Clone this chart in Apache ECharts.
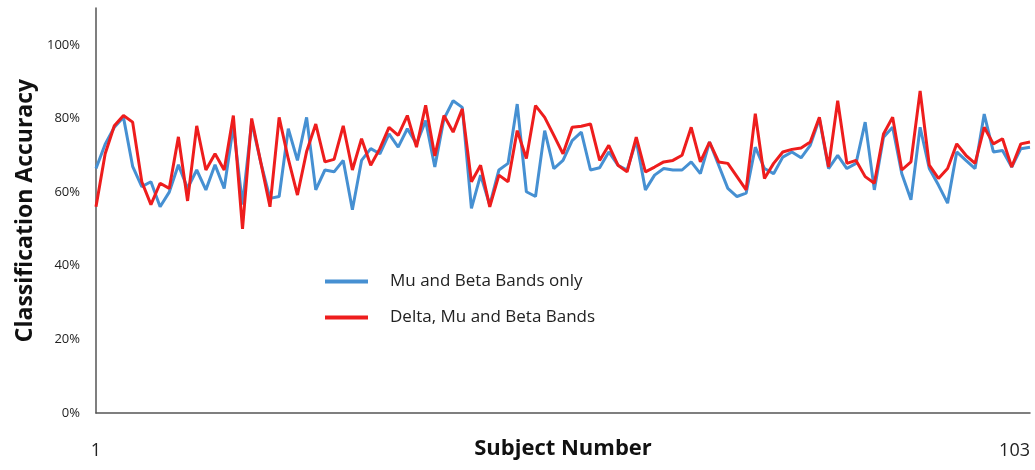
<!DOCTYPE html>
<html>
<head>
<meta charset="utf-8">
<script src="https://cdn.jsdelivr.net/npm/echarts@6/dist/echarts.min.js"></script>
<style>
  html, body { margin: 0; padding: 0; background: #fff; }
  #chart { width: 1035px; height: 470px; }
</style>
</head>
<body>
<div id="chart"></div>
<script>
// subject numbers 1..103
const subjects = Array.from({ length: 103 }, (_, i) => String(i + 1));

const muBeta = [
  66.4, 73, 77.6, 80.3, 67, 61.5, 62.8, 56, 60, 67.4,
  61, 66, 60.6, 67.4, 61, 78, 56.6, 79, 68, 58.3,
  58.8, 77.2, 68.6, 80.3, 60.6, 66, 65.5, 68.6, 55.2, 68.6,
  71.8, 70.4, 75.8, 72.2, 77.2, 73.1, 79.4, 66.8, 79.9, 84.8,
  83, 55.6, 64.6, 56.5, 66, 67.8, 83.9, 60.1, 58.8, 76.7,
  66.4, 68.6, 74, 76.3, 66, 66.6, 70.9, 67.3, 66, 74,
  60.6, 64.6, 66.4, 66, 66, 68.2, 65, 73.6, 67.3, 61,
  58.8, 59.7, 72.2, 66.4, 65, 69.5, 70.9, 69.3, 72.7, 79.9,
  66.4, 70, 66.4, 67.8, 79, 60.6, 74.9, 77.6, 65, 57.9,
  77.6, 66.4, 61.9, 57, 70.9, 68.6, 66.4, 81.2, 70.9, 71.3,
  66.8, 71.8, 72.2
];

const deltaMuBeta = [
  56, 70.4, 78, 80.8, 79, 62.8, 56.6, 62.4, 61, 75,
  57.6, 78, 66, 70.4, 66, 80.8, 50, 80, 68, 56,
  80.3, 69, 59.2, 71, 78.5, 68.2, 68.9, 78, 66, 74.5,
  67.3, 71.8, 77.6, 75.4, 80.8, 72.2, 83.6, 69.8, 80.8, 76.3,
  82.6, 62.8, 67.3, 56, 64.6, 62.8, 76.7, 69.1, 83.5, 80.3,
  75.4, 70.4, 77.6, 77.9, 78.5, 68.6, 72.7, 67.3, 65.5, 74.9,
  65.5, 66.8, 68.2, 68.6, 70, 77.6, 68.2, 73.6, 68.2, 67.8,
  64.2, 60.6, 81.3, 63.7, 67.8, 70.9, 71.6, 72, 73.6, 80.3,
  66.8, 84.8, 67.8, 68.6, 64.2, 62.4, 75.8, 80.3, 66, 68.2,
  87.5, 67.3, 63.7, 66.4, 73.1, 70, 67.8, 77.6, 73.1, 74.5,
  66.8, 73.1, 73.6
];

const yTicks = [0, 20, 40, 60, 80, 100];

const chart = echarts.init(document.getElementById('chart'));

const font = '"Open Sans", "Liberation Sans", sans-serif';

chart.setOption({
  animation: false,
  textStyle: { fontFamily: font },
  grid: {
    left: 96,
    right: 5,
    top: 8,
    bottom: 57,
    outerBoundsMode: 'none'
  },
  legend: {
    orient: 'vertical',
    left: 320,
    top: 268,
    itemGap: 19,
    itemWidth: 43,
    itemHeight: 4,
    icon: 'rect',
    textStyle: { fontSize: 17, color: '#222', fontFamily: font, padding: [0, 0, 0, 17] },
    data: ['Mu and Beta Bands only', 'Delta, Mu and Beta Bands']
  },
  xAxis: {
    type: 'category',
    data: subjects,
    boundaryGap: false,
    name: 'Subject Number',
    nameLocation: 'middle',
    nameGap: 25,
    nameMoveOverlap: false,
    nameTextStyle: { fontSize: 22, fontWeight: 'bold', color: '#111', fontFamily: font },
    axisLine: { lineStyle: { color: '#555', width: 1.5 } },
    axisTick: { show: false },
    axisLabel: {
      interval: (i) => i === 0 || i === subjects.length - 1,
      fontSize: 18,
      color: '#222',
      margin: 29,
      alignMaxLabel: 'right'
    }
  },
  yAxis: {
    type: 'value',
    min: 0,
    max: 110,
    interval: 20,
    name: 'Classification Accuracy',
    nameLocation: 'middle',
    nameGap: 59,
    nameMoveOverlap: false,
    nameTextStyle: { fontSize: 23, fontWeight: 'bold', color: '#111', fontFamily: font },
    splitLine: { show: false },
    axisLine: { show: true, lineStyle: { color: '#555', width: 1.5 } },
    axisTick: { show: false },
    axisLabel: {
      fontSize: 13,
      color: '#222',
      margin: 16,
      formatter: (v) => yTicks.includes(v) ? v + '%' : ''
    }
  },
  series: [
    {
      name: 'Mu and Beta Bands only',
      type: 'line',
      data: muBeta,
      symbol: 'none',
      lineStyle: { color: '#4690d2', width: 3 },
      itemStyle: { color: '#4690d2' }
    },
    {
      name: 'Delta, Mu and Beta Bands',
      type: 'line',
      data: deltaMuBeta,
      symbol: 'none',
      lineStyle: { color: '#ee1d1d', width: 3 },
      itemStyle: { color: '#ee1d1d' }
    }
  ]
});
</script>
</body>
</html>
